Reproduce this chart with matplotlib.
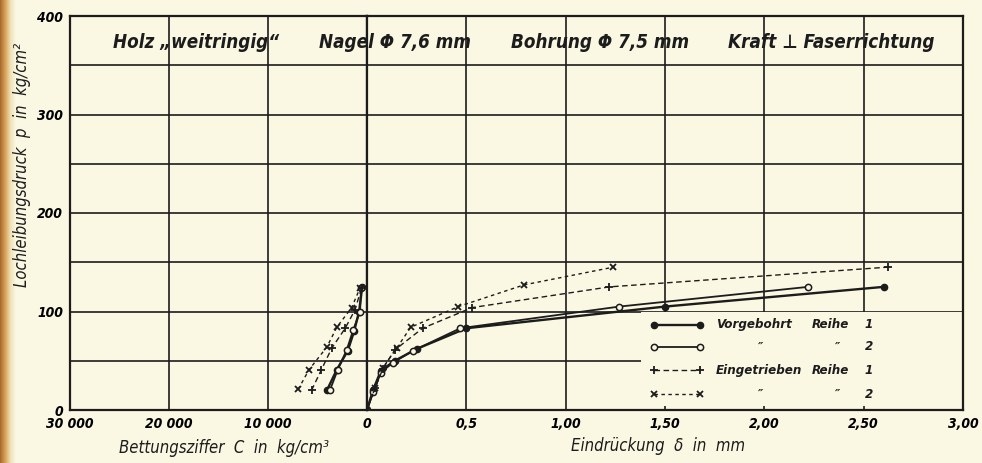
import matplotlib.pyplot as plt
import numpy as np
from matplotlib.colors import LinearSegmentedColormap
from matplotlib.lines import Line2D
from matplotlib.patches import Rectangle

# Lochleibungsversuche: Eindrückung delta (mm) und Bettungsziffer C (kg/cm3) gegen p (kg/cm2)
vb1_delta = [0, 0.03, 0.07, 0.14, 0.25, 0.50, 1.50, 2.60]
vb1_p = [0, 20, 40, 50, 62, 83, 105, 125]
vb2_delta = [0, 0.03, 0.07, 0.13, 0.23, 0.47, 1.27, 2.22]
vb2_p = [0, 18, 38, 48, 60, 83, 105, 125]
et1_delta = [0, 0.04, 0.08, 0.14, 0.28, 0.53, 1.22, 2.62]
et1_p = [0, 22, 42, 61, 83, 104, 125, 145]
et2_delta = [0, 0.04, 0.08, 0.15, 0.22, 0.46, 0.79, 1.24]
et2_p = [0, 22, 43, 63, 84, 105, 127, 145]

vb1_c = [4050, 3050, 1950, 1300, 800, 480]
vb1_cp = [20, 41, 60, 80, 100, 125]
vb2_c = [3750, 2950, 2050, 1400, 700, 600]
vb2_cp = [20, 41, 61, 81, 100, 124]
et1_c = [5600, 4600, 3550, 2200, 1200, 550]
et1_cp = [20, 41, 63, 83, 102, 124]
et2_c = [6950, 5850, 4050, 3050, 1550, 700]
et2_cp = [21, 41, 64, 84, 104, 124]

c_ticks = [30000, 20000, 10000, 0]
c_labels = ["30 000", "20 000", "10 000", "0"]
d_ticks = [0, 0.5, 1.0, 1.5, 2.0, 2.5, 3.0]
d_labels = ["", "0,5", "1,00", "1,50", "2,00", "2,50", "3,00"]
p_ticks = [0, 50, 100, 150, 200, 250, 300, 350, 400]

PAPER = "#faf7e2"
INK = "#1c1c1c"
plt.rcParams["font.family"] = ["DejaVu Sans"]
plt.rcParams["font.stretch"] = "condensed"

W, H = 982, 463
fig = plt.figure(figsize=(W / 100, H / 100), dpi=100, facecolor=PAPER)

# binding edge on the left
strip = fig.add_axes([0, 0, 16 / W, 1])
grad = np.linspace(0, 1, 64)[None, :]
cm = LinearSegmentedColormap.from_list("edge", ["#a8692c", "#d9a35a", "#efe2b8", PAPER])
strip.imshow(grad, aspect="auto", cmap=cm, extent=[0, 1, 0, 1])
strip.axis("off")

axL = fig.add_axes([70 / W, 53 / H, 297 / W, 394 / H])
axR = fig.add_axes([367 / W, 53 / H, 596 / W, 394 / H], sharey=axL)

tick_font = dict(fontsize=10, fontstyle="italic", fontweight="bold", fontstretch="condensed")
for ax in (axL, axR):
    ax.set_facecolor(PAPER)
    ax.set_axisbelow(True)
    ax.grid(True, color=INK, lw=1.2)
    ax.tick_params(length=0, pad=5)
    for s in ax.spines.values():
        s.set_linewidth(1.6)
        s.set_color(INK)

axL.set_ylim(0, 400)
axL.set_yticks(p_ticks)
axL.set_yticklabels([str(v) if v % 100 == 0 else "" for v in p_ticks], **tick_font)
axR.tick_params(axis="y", labelleft=False)

axL.set_xlim(30000, 0)
axL.set_xticks(c_ticks)
axL.set_xticklabels(c_labels, **tick_font)
axR.set_xlim(0, 3.0)
axR.set_xticks(d_ticks)
axR.set_xticklabels(d_labels, **tick_font)

# paper box behind the legend hides the grid
axR.add_patch(Rectangle((1.38, 4), 1.62, 96, facecolor=PAPER, edgecolor="none", zorder=1))

styles = {
    "vb1": dict(color=INK, lw=1.7, ls="-", marker="o", ms=4.5, mfc=INK, mec=INK),
    "vb2": dict(color=INK, lw=1.3, ls="-", marker="o", ms=4.5, mfc=PAPER, mec=INK, mew=1.1),
    "et1": dict(color=INK, lw=1.0, ls=(0, (4, 2.5)), marker="+", ms=6, mew=1.3),
    "et2": dict(color=INK, lw=1.0, ls=(0, (2.5, 2.5)), marker="x", ms=4.5, mew=1.3),
}

axR.plot(vb1_delta, vb1_p, zorder=3, **styles["vb1"])
axR.plot(vb2_delta, vb2_p, zorder=3, **styles["vb2"])
axR.plot(et1_delta, et1_p, zorder=3, **styles["et1"])
axR.plot(et2_delta, et2_p, zorder=3, **styles["et2"])

axL.plot(vb1_c, vb1_cp, zorder=3, **styles["vb1"])
axL.plot(vb2_c, vb2_cp, zorder=3, **styles["vb2"])
axL.plot(et1_c, et1_cp, zorder=3, **styles["et1"])
axL.plot(et2_c, et2_cp, zorder=3, **styles["et2"])

# legend drawn by hand: key, name, ditto marks
txt = dict(fontsize=9.5, fontstyle="italic", fontweight="bold", fontstretch="condensed",
           color=INK, va="center", transform=axR.transAxes, zorder=5)
rows = [0.216, 0.160, 0.101, 0.040]
keys = ["vb1", "vb2", "et1", "et2"]
names = ["Vorgebohrt", "\u2033", "Eingetrieben", "\u2033"]
reihe = ["Reihe", "\u2033", "Reihe", "\u2033"]
nums = ["1", "2", "1", "2"]
for y, k, n, r, num in zip(rows, keys, names, reihe, nums):
    axR.add_line(Line2D([0.482, 0.558], [y, y], transform=axR.transAxes, zorder=5,
                        **styles[k]))
    if n == "\u2033":
        axR.text(0.660, y, n, ha="center", **txt)
        axR.text(0.790, y, r, ha="center", **txt)
    else:
        axR.text(0.585, y, n, ha="left", **txt)
        axR.text(0.747, y, r, ha="left", **txt)
    axR.text(0.835, y, num, ha="left", **txt)

# heading line inside the top band
head = dict(fontsize=13.5, fontstyle="italic", fontweight="bold", fontstretch="condensed",
            color=INK, va="center", ha="center", zorder=5)
fig.text(196 / W, 1 - 43 / H, "Holz \u201eweitringig\u201c", **head)
fig.text(395 / W, 1 - 43 / H, "Nagel \u03a6 7,6 mm", **head)
fig.text(600 / W, 1 - 43 / H, "Bohrung \u03a6 7,5 mm", **head)
fig.text(831 / W, 1 - 43 / H, "Kraft \u22a5 Faserrichtung", **head)

lab = dict(fontsize=12, fontstyle="italic", fontstretch="condensed", color=INK,
           va="center", ha="center")
fig.text(22 / W, 1 - 165 / H, "Lochleibungsdruck  p  in  kg/cm\u00b2", rotation=90, **lab)
fig.text(224 / W, 1 - 448 / H, "Bettungsziffer  C  in  kg/cm\u00b3", **lab)
fig.text(658 / W, 1 - 446 / H, "Eindr\u00fcckung  \u03b4  in  mm", **lab)

fig.savefig("out.png", dpi=100, facecolor=PAPER)
